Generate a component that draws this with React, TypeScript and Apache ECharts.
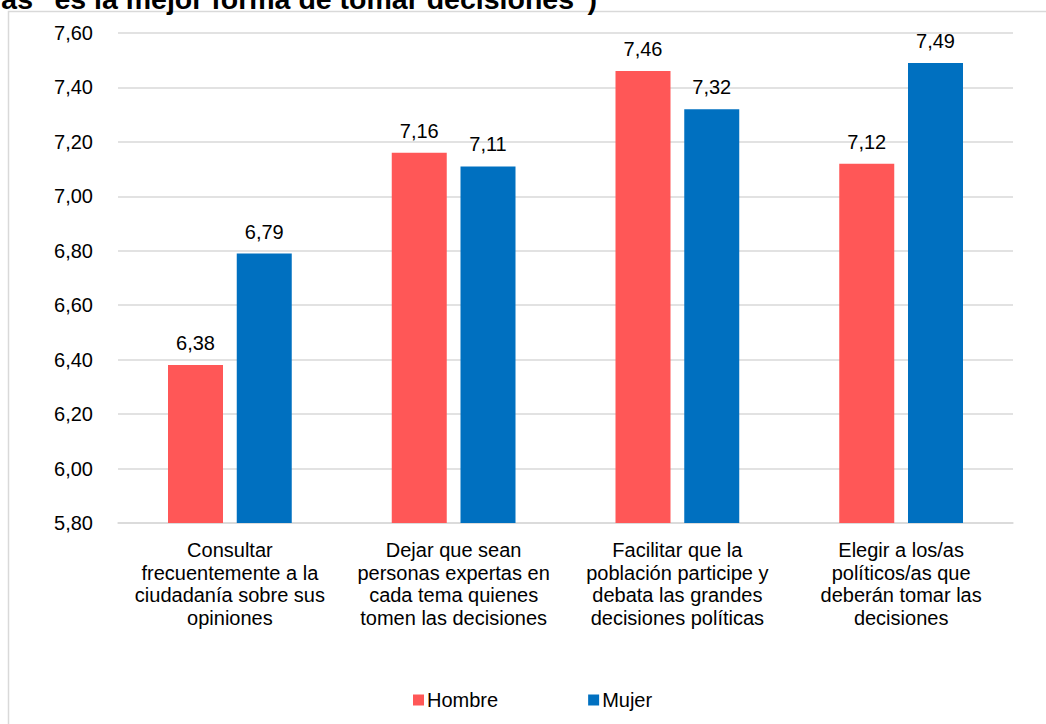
import React, { useEffect, useRef } from "react";
import * as echarts from "echarts";

const categories = [
  "Consultar\nfrecuentemente a la\nciudadanía sobre sus\nopiniones",
  "Dejar que sean\npersonas expertas en\ncada tema quienes\ntomen las decisiones",
  "Facilitar que la\npoblación participe y\ndebata las grandes\ndecisiones políticas",
  "Elegir a los/as\npolíticos/as que\ndeberán tomar las\ndecisiones",
];
const hombre = [6.38, 7.16, 7.46, 7.12];
const mujer = [6.79, 7.11, 7.32, 7.49];
const seriesNames = ["Hombre", "Mujer"];
const titleText = 'ás "es la mejor forma de tomar decisiones")';

const FONT = "Arial, 'Liberation Sans', Helvetica, sans-serif";
const fmt = (v: number) => v.toFixed(2).replace(".", ",");

export default function App() {
  const ref = useRef<HTMLDivElement>(null);
  useEffect(() => {
    if (!ref.current) return;
    const chart = echarts.init(ref.current, null, { renderer: "svg" });
    const labelCfg = {
      show: true,
      position: "top",
      distance: 12,
      fontSize: 20,
      color: "#000000",
      fontFamily: FONT,
      formatter: (p: any) => fmt(p.value),
    };
    chart.setOption({
      animation: false,
      backgroundColor: "#ffffff",
      textStyle: { fontFamily: FONT },
      graphic: [
        {
          type: "rect",
          shape: { x: 8.5, y: 11.5, width: 1100, height: 800 },
          style: { fill: "none", stroke: "#d9d9d9", lineWidth: 1.5 },
          z: -1,
        },
        {
          type: "text",
          x: 597,
          y: 13,
          style: {
            text: titleText,
            font: `bold 28.5px ${FONT}`,
            fill: "#000000",
            textAlign: "right",
            textVerticalAlign: "bottom",
          },
        },
      ],
      grid: { left: 118, right: 33, top: 33, height: 490, containLabel: false },
      legend: {
        data: seriesNames,
        left: 408,
        top: 685,
        itemWidth: 11,
        itemHeight: 11,
        itemGap: 90,
        icon: "rect",
        textStyle: { fontSize: 20, color: "#000000", fontFamily: FONT, padding: [0, 0, 0, -2] },
      },
      xAxis: {
        type: "category",
        data: categories,
        axisLine: { lineStyle: { color: "#d9d9d9", width: 1.5 } },
        axisTick: { show: false },
        axisLabel: {
          interval: 0,
          fontSize: 20,
          lineHeight: 22.5,
          color: "#000000",
          margin: 16,
        },
      },
      yAxis: {
        type: "value",
        min: 5.8,
        max: 7.6,
        interval: 0.2,
        axisLine: { show: false },
        axisTick: { show: false },
        splitLine: { lineStyle: { color: "#d9d9d9", width: 1.5 } },
        axisLabel: {
          fontSize: 20,
          color: "#000000",
          margin: 25,
          formatter: (v: number) => fmt(v),
        },
      },
      series: [
        {
          name: seriesNames[0],
          type: "bar",
          data: hombre,
          barWidth: 55,
          barGap: "25%",
          itemStyle: { color: "#FF5757" },
          label: labelCfg,
        },
        {
          name: seriesNames[1],
          type: "bar",
          data: mujer,
          barWidth: 55,
          barGap: "25%",
          itemStyle: { color: "#0070C0" },
          label: labelCfg,
        },
      ],
    });
    return () => chart.dispose();
  }, []);
  return (
    <div
      ref={ref}
      style={{ position: "fixed", left: 0, top: 0, width: 1046, height: 724 }}
    />
  );
}
